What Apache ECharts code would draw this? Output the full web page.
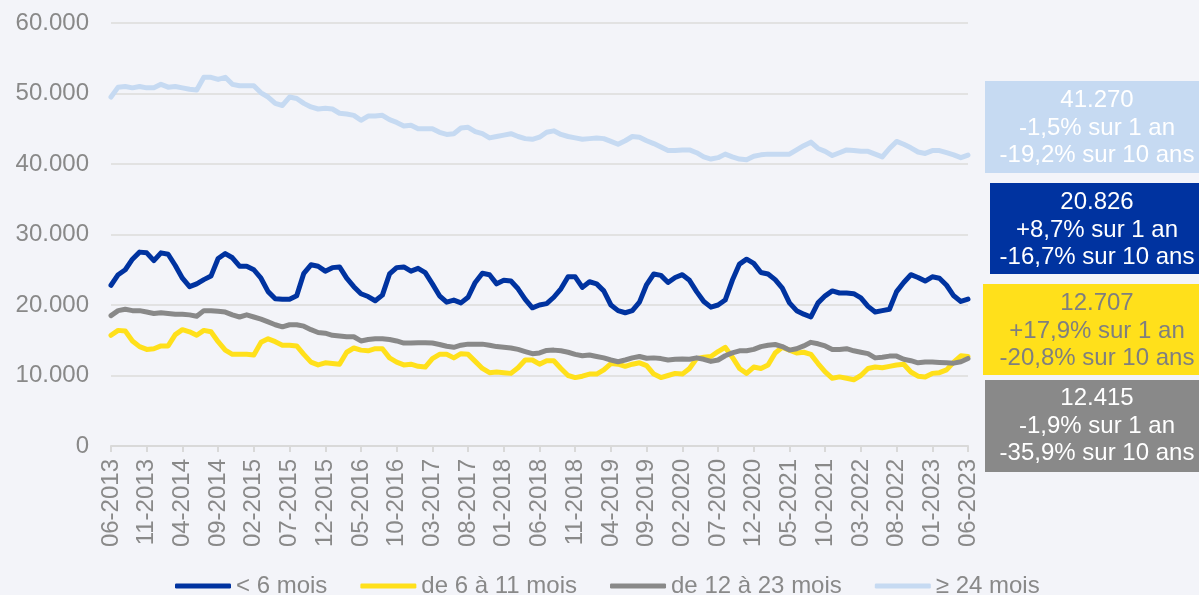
<!DOCTYPE html>
<html lang="fr">
<head>
    <meta charset="UTF-8">
    <title>Stock par ancienneté</title>
    <script src="https://cdn.jsdelivr.net/npm/echarts@6/dist/echarts.min.js"></script>
    <style>
        html, body, #chart {
            width: 100%;
            height: 100%;
            margin: 0;
            padding: 0;
        }
        body {
            overflow: hidden;
            background: #F3F4F9;
        }
    </style>
</head>
<body>
    <div id="chart"></div>
    <script>
        // mois de 06-2013 à 06-2023
        const months = [];
        for (let y = 2013, m = 6; y < 2023 || (y === 2023 && m <= 6); m++) {
            if (m > 12) { m = 1; y++; }
            months.push(String(m).padStart(2, '0') + '-' + y);
        }

        const seriesNames = ['< 6 mois', 'de 6 à 11 mois', 'de 12 à 23 mois', '≥ 24 mois'];

        const moins6 = [
            22800, 24300, 25000, 26500, 27500, 27400, 26300, 27400, 27200, 25600,
            23800, 22600, 23000, 23600, 24100, 26600, 27300, 26700, 25500, 25500,
            25000, 23800, 21900, 20900, 20800, 20800, 21300, 24500, 25700, 25500,
            24800, 25300, 25400, 23800, 22600, 21600, 21200, 20600, 21400, 24400,
            25300, 25400, 24800, 25200, 24600, 23000, 21300, 20400, 20700, 20300,
            21100, 23200, 24500, 24300, 23000, 23500, 23400, 22300, 20800, 19600,
            20000, 20200, 21100, 22300, 24000, 24000, 22500, 23300, 23000, 22000,
            20000, 19200, 18900, 19200, 20400, 22900, 24400, 24200, 23200, 23900,
            24300, 23500, 21900, 20500, 19700, 20000, 20700, 23500, 25800, 26500,
            25900, 24600, 24400, 23600, 22400, 20300, 19200, 18700, 18300, 20300,
            21300, 22000, 21700, 21700, 21600, 21000, 19800, 19000, 19200, 19400,
            21900, 23200, 24300, 23900, 23400, 24000, 23800, 22800, 21300, 20500,
            20826
        ];

        const de6a11 = [
            15700, 16400, 16300, 14900, 14100, 13700, 13800, 14200, 14200, 15800,
            16500, 16200, 15700, 16400, 16200, 14800, 13600, 13000, 13000, 13000,
            12900, 14700, 15200, 14800, 14300, 14300, 14200, 13000, 11900, 11500,
            11800, 11700, 11600, 13300, 13900, 13600, 13500, 13800, 13800, 12500,
            11900, 11500, 11600, 11300, 11200, 12400, 13000, 13000, 12500, 13100,
            13000, 12000, 11000, 10400, 10500, 10400, 10300, 11100, 12200, 12200,
            11600, 12100, 12100, 11000, 10000, 9700, 9900, 10200, 10200, 10800,
            11700, 11600, 11300, 11600, 11800, 11400, 10200, 9700, 10000, 10300,
            10200, 11000, 12400, 12600, 12700, 13400, 14000, 12600, 11000, 10300,
            11200, 11000, 11500, 13200, 14000, 13600, 13200, 13300, 13000, 11700,
            10500, 9600, 9800, 9600, 9400, 10000, 11000, 11200, 11100, 11300,
            11500, 11600, 10500, 9900, 9800, 10300, 10400, 10800, 11900, 12800,
            12707
        ];

        const de12a23 = [
            18500, 19200, 19400, 19200, 19200, 19000, 18800, 18900, 18800, 18700,
            18700, 18600, 18400, 19200, 19200, 19100, 19000, 18600, 18300, 18600,
            18300, 18000, 17600, 17200, 16900, 17200, 17200, 17000, 16500, 16100,
            16000, 15700, 15600, 15500, 15500, 14900, 15100, 15200, 15200, 15100,
            14900, 14600, 14600, 14650, 14650, 14600, 14400, 14150, 14000, 14300,
            14450, 14450, 14450, 14300, 14100, 14000, 13900, 13700, 13400, 13100,
            13200, 13550, 13600, 13500, 13300, 13000, 12800, 12900, 12700, 12500,
            12200, 11950, 12200, 12500, 12700, 12450, 12500, 12400, 12200, 12300,
            12350, 12300, 12500, 12300, 12000, 12200, 12800, 13200, 13500, 13500,
            13700, 14100, 14300, 14400, 14100, 13600, 13800, 14200, 14700, 14500,
            14200, 13700, 13700, 13800, 13500, 13300, 13100, 12500, 12600, 12750,
            12750, 12300, 12100, 11800, 11900, 11900, 11850, 11800, 11750, 11950,
            12415
        ];

        const plus24 = [
            49500, 50900, 51000, 50800, 51000, 50800, 50800, 51300, 50900, 51000,
            50800, 50600, 50500, 52300, 52300, 52000, 52300, 51300, 51100, 51100,
            51100, 50100, 49500, 48600, 48300, 49500, 49300, 48600, 48100, 47800,
            47900, 47800, 47200, 47100, 46900, 46200, 46800, 46800, 46900, 46300,
            45900, 45400, 45500, 45000, 45000, 45000, 44500, 44200, 44300, 45100,
            45200, 44600, 44300, 43700, 43900, 44100, 44300, 43900, 43600, 43500,
            43800, 44500, 44700, 44200, 43900, 43700, 43500, 43600, 43700, 43600,
            43200, 42800, 43300, 43900, 43800, 43300, 42900, 42400, 41900, 41900,
            42000, 42000, 41600, 41000, 40700, 40900, 41400, 41000, 40700, 40600,
            41100, 41300, 41400, 41400, 41400, 41400, 42000, 42600, 43100, 42200,
            41800, 41200, 41600, 42000, 41900, 41800, 41800, 41400, 41000, 42200,
            43200, 42800, 42300, 41700, 41500, 41900, 41900, 41600, 41300, 40900,
            41270
        ];

        // encadrés de droite : dernière valeur et évolutions
        const boxLines = [
            ['41.270', '-1,5% sur 1 an', '-19,2% sur 10 ans'],
            ['20.826', '+8,7% sur 1 an', '-16,7% sur 10 ans'],
            ['12.707', '+17,9% sur 1 an', '-20,8% sur 10 ans'],
            ['12.415', '-1,9% sur 1 an', '-35,9% sur 10 ans']
        ];

        const colors = ['#0033A0', '#FFE01B', '#898989', '#C6DAF2'];
        const txtColor = '#898989';
        const font = '"Liberation Sans", Arial, sans-serif';

        // encadrés : [x, y, largeur, hauteur, fond, couleur texte, y texte]
        const boxes = [
            [985, 81, 220, 92, '#C6DAF2', '#ffffff', 128],
            [990, 183, 215, 91, '#0033A0', '#ffffff', 230],
            [983, 284, 222, 91, '#FFE01B', '#7f7f7f', 331],
            [985, 380, 220, 92, '#898989', '#ffffff', 426]
        ];

        const graphics = [];
        boxes.forEach(function (b, i) {
            graphics.push({
                type: 'rect',
                shape: { x: b[0], y: b[1], width: b[2], height: b[3] },
                style: { fill: b[4] },
                z: 10
            });
            graphics.push({
                type: 'text',
                x: 1097,
                y: b[6],
                style: {
                    text: boxLines[i].join('\n'),
                    fill: b[5],
                    font: '24px ' + font,
                    lineHeight: 27.5,
                    textAlign: 'center',
                    textVerticalAlign: 'middle'
                },
                z: 11
            });
        });

        function fmt(v) {
            if (v === 0) return '0';
            return Math.floor(v / 1000) + '.' + String(v % 1000).padStart(3, '0');
        }

        const chart = echarts.init(document.getElementById('chart'));

        const mk = function (name, data, color) {
            return {
                name: name,
                type: 'line',
                data: data,
                symbol: 'none',
                smooth: false,
                color: color,
                lineStyle: { width: 5, color: color, cap: 'round', join: 'round' },
                emphasis: { disabled: true }
            };
        };

        const option = {
            backgroundColor: '#F3F4F9',
            animation: false,
            textStyle: { fontFamily: font },
            grid: { left: 111, right: 231, top: 23, bottom: 149, containLabel: false },
            legend: {
                data: seriesNames,
                left: 170,
                top: 569,
                icon: 'roundRect',
                itemWidth: 56,
                itemHeight: 5,
                itemGap: 33,
                textStyle: { color: txtColor, fontSize: 24, fontFamily: font }
            },
            xAxis: {
                type: 'category',
                data: months,
                boundaryGap: false,
                axisLine: { lineStyle: { color: '#D9D9D9', width: 2 } },
                axisTick: { show: true, interval: 4, length: 6, lineStyle: { color: '#D9D9D9', width: 2 } },
                axisLabel: {
                    interval: 4,
                    rotate: 90,
                    margin: 13,
                    color: txtColor,
                    fontSize: 24,
                    fontFamily: font
                },
                splitLine: { show: false }
            },
            yAxis: {
                type: 'value',
                min: 0,
                max: 60000,
                interval: 10000,
                axisLine: { show: false },
                axisTick: { show: false },
                axisLabel: {
                    margin: 22,
                    color: txtColor,
                    fontSize: 24,
                    fontFamily: font,
                    formatter: fmt
                },
                splitLine: { lineStyle: { color: '#E2E2E2', width: 2 } }
            },
            series: [
                mk(seriesNames[0], moins6, colors[0]),
                mk(seriesNames[1], de6a11, colors[1]),
                mk(seriesNames[2], de12a23, colors[2]),
                mk(seriesNames[3], plus24, colors[3])
            ],
            graphic: graphics
        };

        chart.setOption(option);
        window.addEventListener('resize', function () {
            chart.resize();
        });
    </script>
</body>
</html>
